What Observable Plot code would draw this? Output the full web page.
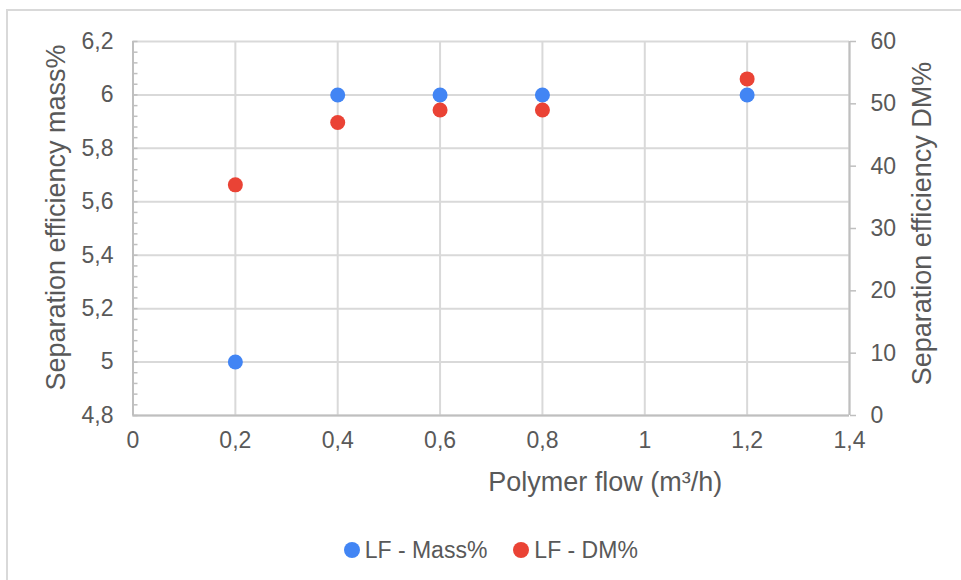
<!DOCTYPE html>
<html>
<head>
<meta charset="utf-8">
<script src="https://cdn.jsdelivr.net/npm/d3@7"></script>
<script src="https://cdn.jsdelivr.net/npm/@observablehq/plot@0.6"></script>
<style>
  html, body { margin: 0; padding: 0; background: #fff; }
  body { width: 961px; height: 580px; position: relative; overflow: hidden; font-family: "Liberation Sans", Arial, sans-serif; }
  #frame { position: absolute; left: 6px; top: 9px; width: 1000px; height: 700px; border-left: 2px solid #d9d9d9; border-top: 2px solid #d9d9d9; }
  #chart { position: absolute; left: 0; top: 0; }
  #legend { position: absolute; left: 132.5px; top: 510px; width: 716.5px; height: 80px; display: flex; justify-content: center; align-items: center; gap: 26px; color: #595959; font-size: 23px; }
  #legend .item { display: flex; align-items: center; gap: 5px; }
  #legend .sw { width: 16px; height: 16px; border-radius: 50%; display: inline-block; }
</style>
</head>
<body>
<div id="frame"></div>
<div id="chart"></div>
<div id="legend"></div>
<script>
// ---- data ----
const flow = [0.2, 0.4, 0.6, 0.8, 1.2];
const massPct = [5, 6, 6, 6, 6];
const dmPct = [37, 47, 49, 49, 54];
const seriesNames = ["LF - Mass%", "LF - DM%"];
const seriesColors = ["#4285f4", "#ea4335"];
const xTicks = [0, 0.2, 0.4, 0.6, 0.8, 1.0, 1.2, 1.4];
const leftTicks = [4.8, 5.0, 5.2, 5.4, 5.6, 5.8, 6.0, 6.2];
const rightTicks = [0, 10, 20, 30, 40, 50, 60];
const xTitle = "Polymer flow (m³/h)";
const leftTitle = "Separation efficiency mass%";
const rightTitle = "Separation efficiency DM%";

// ---- scales ----
const yMin = 4.8, yMax = 6.2, dmMin = 0, dmMax = 60;
const toLeft = v => yMin + (v - dmMin) / (dmMax - dmMin) * (yMax - yMin);
const fromLeft = y => dmMin + (y - yMin) / (yMax - yMin) * (dmMax - dmMin);
const comma = d => String(+(+d).toFixed(2)).replace(".", ",");
const minorTicks = d3.range(0, 36).map(i => +(yMin + i * 0.04).toFixed(2));

const rows = flow.map((x, i) => ({x, mass: massPct[i], dm: dmPct[i]}));

const W = 961, H = 500, mL = 132.5, mR = 112, mT = 41, mB = 85;
const plotW = W - mL - mR;
const txt = "#595959", grid = "#d9d9d9", axisCol = "#bfbfbf";

const chart = Plot.plot({
  width: W, height: H,
  marginLeft: mL, marginRight: mR, marginTop: mT, marginBottom: mB,
  x: {domain: [0, 1.4]},
  y: {domain: [yMin, yMax]},
  style: {fontFamily: "'Liberation Sans', Arial, sans-serif", fontSize: "23px", color: txt, background: "transparent", overflow: "visible"},
  marks: [
    Plot.gridY(leftTicks, {stroke: grid, strokeOpacity: 1, strokeWidth: 2}),
    Plot.gridX(xTicks, {stroke: grid, strokeOpacity: 1, strokeWidth: 2}),
    Plot.ruleY([yMin], {stroke: axisCol, strokeWidth: 2}),
    Plot.ruleX([0], {stroke: axisCol, strokeWidth: 2}),
    Plot.ruleX([1.4], {stroke: axisCol, strokeWidth: 2}),
    Plot.tickY(minorTicks, {y: d => d, stroke: axisCol, strokeWidth: 1.5, insetRight: plotW - 5}),
    Plot.axisY(leftTicks, {anchor: "left", tickSize: 0, tickPadding: 19.5, tickFormat: comma, label: null, fontSize: 23, fill: txt}),
    Plot.axisY(rightTicks.map(toLeft), {anchor: "right", tickSize: 6, tickPadding: 15, stroke: axisCol, strokeWidth: 1.5, tickFormat: d => String(Math.round(fromLeft(d))), label: null, fontSize: 23, fill: txt}),
    Plot.axisX(xTicks, {anchor: "bottom", tickSize: 0, tickPadding: 16, tickFormat: comma, label: null, fontSize: 23, fill: txt}),
    Plot.dot(rows, {x: "x", y: "mass", r: 7.5, fill: seriesColors[0], stroke: null}),
    Plot.dot(rows, {x: "x", y: d => toLeft(d.dm), r: 7.5, fill: seriesColors[1], stroke: null}),
    Plot.text([leftTitle], {text: d => d, frameAnchor: "left", rotate: -90, dx: -76.5, dy: -11, fontSize: 27, fill: txt, textAnchor: "middle", lineAnchor: "middle"}),
    Plot.text([rightTitle], {text: d => d, frameAnchor: "right", rotate: -90, dx: 73, dy: -5, fontSize: 27, fill: txt, textAnchor: "middle", lineAnchor: "middle"}),
    Plot.text([xTitle], {text: d => d, frameAnchor: "bottom", dx: 114, dy: 67, fontSize: 27, fill: txt, textAnchor: "middle", lineAnchor: "middle"})
  ]
});
document.getElementById("chart").appendChild(chart);

const legend = document.getElementById("legend");
seriesNames.forEach((name, i) => {
  const item = document.createElement("div");
  item.className = "item";
  const sw = document.createElement("span");
  sw.className = "sw";
  sw.style.background = seriesColors[i];
  const label = document.createElement("span");
  label.textContent = name;
  item.appendChild(sw);
  item.appendChild(label);
  legend.appendChild(item);
});
</script>
</body>
</html>
